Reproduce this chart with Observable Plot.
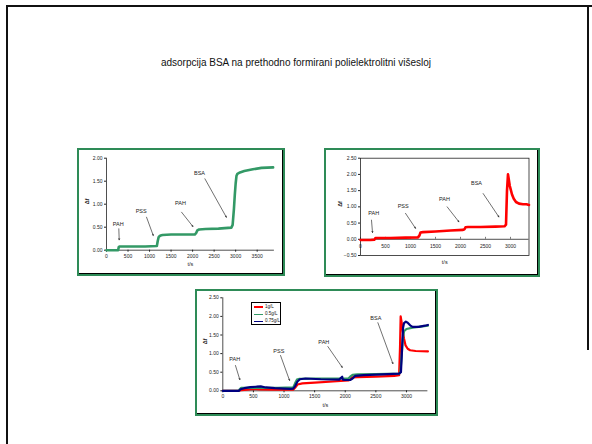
<!DOCTYPE html>
<html>
<head>
<meta charset="utf-8">
<script src="https://cdn.jsdelivr.net/npm/d3@7"></script>
<script src="https://cdn.jsdelivr.net/npm/@observablehq/plot@0.6"></script>
<style>
  html, body { margin: 0; padding: 0; background: #fff; }
  body { width: 592px; height: 444px; position: relative; overflow: hidden; font-family: "Liberation Sans", Arial, sans-serif; }
  .slide { position: absolute; left: 6px; top: 5px; width: 590px; height: 450px; border-top: 2px solid #111; border-left: 2px solid #111; box-sizing: border-box; }
  .rightedge { position: absolute; left: 587px; top: 5px; width: 2px; height: 345px; background: #111; }
  .title { position: absolute; left: 0; top: 57px; width: 592px; text-align: center; font-size: 10px; color: #111; }
  .holder { position: absolute; }
  .holder svg { display: block; }
  .frame { position: absolute; box-sizing: border-box; border: 2px solid #2e8b57; box-shadow: inset -1px -1px 0 #000; z-index: 2; background: transparent; }
  .legend { position: absolute; z-index: 3; background: #fff; border: 0.7px solid #000; box-sizing: border-box; font-size: 4.5px; color: #111; }
  .legend .row { position: absolute; left: 0; height: 6px; width: 100%; }
  .legend .sw { position: absolute; left: 2px; top: 2.5px; width: 9px; height: 1.6px; }
  .legend .lb { position: absolute; left: 13px; top: 0; line-height: 6px; }
</style>
</head>
<body>
<div class="slide"></div>
<div class="rightedge"></div>
<div class="title">adsorpcija BSA na prethodno formirani polielektrolitni višesloj</div>
<div id="c1" class="holder" style="left:77px;top:148px;"></div>
<div class="frame" style="left:77px;top:148px;width:208px;height:128px;"></div>
<div id="c2" class="holder" style="left:324px;top:148px;"></div>
<div class="frame" style="left:324px;top:148px;width:216px;height:129px;"></div>
<div id="c3" class="holder" style="left:195px;top:289px;"></div>
<div class="frame" style="left:195px;top:289px;width:243px;height:127px;"></div>
<div id="leg" class="legend" style="left:251px;top:302px;width:30px;height:23px;"></div>
<script>
// ---------- data ----------
const yLabel = "Δf";
const xLabel = "t/s";
const stepLabels = ["PAH", "PSS", "PAH", "BSA"];

// chart 1 (green)
const t1 = [0, 270, 285, 300, 600, 900, 1170, 1190, 1210, 1225, 1260, 1300, 1500, 1800, 2050, 2080, 2110, 2150, 2300, 2600, 2900, 2930, 2960, 2980, 3000, 3020, 3040, 3100, 3200, 3400, 3600, 3870];
const v1 = [0, 0, 0.07, 0.08, 0.08, 0.08, 0.09, 0.2, 0.28, 0.3, 0.32, 0.33, 0.34, 0.34, 0.34, 0.37, 0.43, 0.45, 0.46, 0.47, 0.49, 0.55, 0.9, 1.2, 1.45, 1.62, 1.66, 1.69, 1.72, 1.76, 1.79, 1.8];
const lab1T = [272, 806, 1718, 2160];
const lab1V = [0.574, 0.84, 1.03, 1.67];
const arr1T1 = [286, 930, 1744, 2286];
const arr1V1 = [0.465, 0.717, 0.826, 1.552];
const arr1T2 = [295, 1086, 2007, 2784];
const arr1V2 = [0.226, 0.32, 0.515, 0.717];
const xTicks1 = [0, 500, 1000, 1500, 2000, 2500, 3000, 3500];
const yTicks1 = [0, 0.5, 1, 1.5, 2];

// chart 2 (red)
const t2 = [0, 200, 280, 300, 600, 900, 1150, 1180, 1200, 1250, 1500, 1800, 2050, 2080, 2100, 2150, 2400, 2700, 2880, 2910, 2930, 2950, 2965, 2985, 3000, 3030, 3065, 3110, 3170, 3250, 3320, 3370];
const v2 = [-0.02, -0.02, -0.01, 0.04, 0.04, 0.05, 0.06, 0.12, 0.21, 0.22, 0.24, 0.27, 0.29, 0.31, 0.37, 0.38, 0.38, 0.39, 0.4, 0.45, 1.5, 2.0, 1.85, 1.65, 1.56, 1.38, 1.25, 1.15, 1.1, 1.08, 1.08, 1.06];
const lab2T = [266, 854, 1680, 2320];
const lab2V = [0.795, 1.02, 1.25, 1.74];
const arr2T1 = [220, 900, 1733, 2453];
const arr2V1 = [0.59, 0.8, 1.0, 1.41];
const arr2T2 = [240, 1100, 1967, 2767];
const arr2V2 = [0.21, 0.34, 0.54, 0.69];
const xTicks2 = [0, 500, 1000, 1500, 2000, 2500, 3000];
const yTicks2 = [-0.5, 0, 0.5, 1, 1.5, 2, 2.5];

// chart 3 (three concentrations)
const seriesNames = ["1g/L", "0.5g/L", "0.75g/L"];
const seriesColors = ["#ff0000", "#339966", "#000080"];
const tRed = [0, 270, 300, 400, 500, 600, 800, 1000, 1150, 1180, 1220, 1300, 1500, 1800, 2050, 2080, 2110, 2200, 2500, 2800, 2880, 2895, 2905, 2920, 2940, 2960, 2985, 3020, 3060, 3150, 3350];
const vRed = [0, 0, 0.02, 0.03, 0.05, 0.04, 0.03, 0.03, 0.03, 0.08, 0.17, 0.2, 0.22, 0.25, 0.28, 0.3, 0.36, 0.37, 0.38, 0.4, 0.42, 1.2, 2.0, 1.85, 1.6, 1.4, 1.22, 1.13, 1.09, 1.07, 1.06];
const tGreen = [0, 260, 280, 300, 600, 900, 1150, 1180, 1210, 1250, 1500, 1800, 2050, 2080, 2120, 2200, 2500, 2880, 2900, 2920, 2940, 2960, 3000, 3100, 3200, 3350];
const vGreen = [0, 0, 0.05, 0.08, 0.08, 0.08, 0.09, 0.2, 0.3, 0.32, 0.33, 0.33, 0.33, 0.38, 0.43, 0.44, 0.45, 0.46, 0.5, 0.9, 1.4, 1.6, 1.66, 1.7, 1.72, 1.75];
const tBlue = [0, 260, 290, 350, 450, 550, 620, 700, 850, 1000, 1100, 1150, 1180, 1220, 1260, 1350, 1600, 1900, 1950, 1960, 2000, 2080, 2120, 2160, 2300, 2600, 2880, 2910, 2930, 2945, 2960, 2990, 3020, 3060, 3100, 3200, 3300, 3350];
const vBlue = [0, 0, 0.04, 0.07, 0.1, 0.11, 0.12, 0.09, 0.07, 0.06, 0.05, 0.06, 0.12, 0.25, 0.31, 0.33, 0.31, 0.3, 0.38, 0.3, 0.29, 0.29, 0.33, 0.4, 0.42, 0.44, 0.46, 0.5, 1.2, 1.7, 1.82, 1.86, 1.83, 1.76, 1.72, 1.72, 1.75, 1.77];
const lab3T = [196, 915, 1650, 2499];
const lab3V = [0.84, 1.06, 1.31, 1.94];
const arr3T1 = [207, 943, 1716, 2533];
const arr3V1 = [0.68, 0.95, 1.19, 1.83];
const arr3T2 = [278, 1090, 1951, 2778];
const arr3V2 = [0.3, 0.28, 0.63, 0.73];
const xTicks3 = [0, 500, 1000, 1500, 2000, 2500, 3000];
const yTicks3 = [0, 0.5, 1, 1.5, 2, 2.5];

// ---------- helpers ----------
const fmt2 = d3.format(".2f");
const pts = (ts, vs) => ts.map((t, i) => ({t, v: vs[i]}));
const labs = (ts, vs) => ts.map((t, i) => ({t, v: vs[i], s: stepLabels[i]}));
const arrs = (a, b, c, d) => a.map((x1, i) => ({x1, y1: b[i], x2: c[i], y2: d[i]}));
const baseStyle = {fontSize: "5px", fontFamily: "'Liberation Sans', Arial, sans-serif", color: "#222", background: "transparent", overflow: "visible"};

function annotations(labData, arrData) {
  return [
    Plot.arrow(arrData, {x1: "x1", y1: "y1", x2: "x2", y2: "y2", stroke: "#111", strokeWidth: 0.6, headLength: 3, headAngle: 50}),
    Plot.text(labData, {x: "t", y: "v", text: "s", fontSize: 5.5, fill: "#222"})
  ];
}
function axisTitles(dxY, dyX) {
  return [
    Plot.text([yLabel], {frameAnchor: "left", dx: dxY, rotate: -90, fontSize: 5.5, fontWeight: "bold", fill: "#222"}),
    Plot.text([xLabel], {frameAnchor: "bottom", dy: dyX, fontSize: 5.5, fill: "#222"})
  ];
}

// ---------- chart 1 ----------
const p1 = Plot.plot({
  width: 208, height: 128,
  marginLeft: 29, marginRight: 11.1, marginTop: 9.7, marginBottom: 26.3,
  x: {domain: [0, 3900]},
  y: {domain: [0, 2]},
  style: baseStyle,
  marks: [
    Plot.ruleY([0], {stroke: "#222", strokeWidth: 0.8}),
    Plot.ruleX([0], {stroke: "#222", strokeWidth: 0.8}),
    Plot.axisY({ticks: yTicks1, tickFormat: fmt2, tickSize: 2, tickPadding: 2, label: null}),
    Plot.axisX({ticks: xTicks1, tickFormat: d => String(d), tickSize: 2, tickPadding: 2, label: null}),
    Plot.line(pts(t1, v1), {x: "t", y: "v", stroke: "#339966", strokeWidth: 2.6}),
    ...annotations(labs(lab1T, lab1V), arrs(arr1T1, arr1V1, arr1T2, arr1V2)),
    ...axisTitles(-19, 16)
  ]
});
document.getElementById("c1").appendChild(p1);

// ---------- chart 2 ----------
const p2 = Plot.plot({
  width: 216, height: 129,
  marginLeft: 36, marginRight: 11.5, marginTop: 9.7, marginBottom: 22,
  x: {domain: [0, 3370], axis: null},
  y: {domain: [-0.5, 2.5]},
  style: baseStyle,
  marks: [
    Plot.frame({stroke: "#222", strokeWidth: 0.8}),
    Plot.ruleY([0], {stroke: "#222", strokeWidth: 0.8}),
    Plot.axisY({ticks: yTicks2, tickFormat: fmt2, tickSize: 2, tickPadding: 2, label: null}),
    Plot.ruleX(xTicks2, {x: d => d, y1: 0, y2: 0.06, stroke: "#222", strokeWidth: 0.6}),
    Plot.text(xTicks2, {x: d => d, y: 0, dy: 7, text: d => String(d), fill: "#222"}),
    Plot.line(pts(t2, v2), {x: "t", y: "v", stroke: "#ff0000", strokeWidth: 2.6}),
    ...annotations(labs(lab2T, lab2V), arrs(arr2T1, arr2V1, arr2T2, arr2V2)),
    ...axisTitles(-20.7, 8)
  ]
});
document.getElementById("c2").appendChild(p2);

// ---------- chart 3 ----------
const series3 = [
  ...pts(tRed, vRed).map(d => ({...d, s: seriesNames[0]})),
  ...pts(tGreen, vGreen).map(d => ({...d, s: seriesNames[1]})),
  ...pts(tBlue, vBlue).map(d => ({...d, s: seriesNames[2]}))
];
const p3 = Plot.plot({
  width: 243, height: 127,
  marginLeft: 27.3, marginRight: 10.6, marginTop: 8.3, marginBottom: 25.7,
  x: {domain: [0, 3350]},
  y: {domain: [0, 2.5]},
  color: {domain: seriesNames, range: seriesColors},
  style: baseStyle,
  marks: [
    Plot.ruleY([0], {stroke: "#222", strokeWidth: 0.8}),
    Plot.ruleX([0], {stroke: "#222", strokeWidth: 0.8}),
    Plot.axisY({ticks: yTicks3, tickFormat: fmt2, tickSize: 2, tickPadding: 2, label: null}),
    Plot.axisX({ticks: xTicks3, tickFormat: d => String(d), tickSize: 2, tickPadding: 2, label: null}),
    Plot.line(series3, {x: "t", y: "v", z: "s", stroke: "s", strokeWidth: 2.2}),
    ...annotations(labs(lab3T, lab3V), arrs(arr3T1, arr3V1, arr3T2, arr3V2)),
    ...axisTitles(-17.3, 16)
  ]
});
document.getElementById("c3").appendChild(p3);

// ---------- legend for chart 3 ----------
const leg = document.getElementById("leg");
seriesNames.forEach((name, i) => {
  const row = document.createElement("div");
  row.className = "row";
  row.style.top = (0.8 + i * 7.2) + "px";
  const sw = document.createElement("span");
  sw.className = "sw";
  sw.style.background = seriesColors[i];
  const lb = document.createElement("span");
  lb.className = "lb";
  lb.textContent = name;
  row.appendChild(sw);
  row.appendChild(lb);
  leg.appendChild(row);
});
</script>
</body>
</html>
